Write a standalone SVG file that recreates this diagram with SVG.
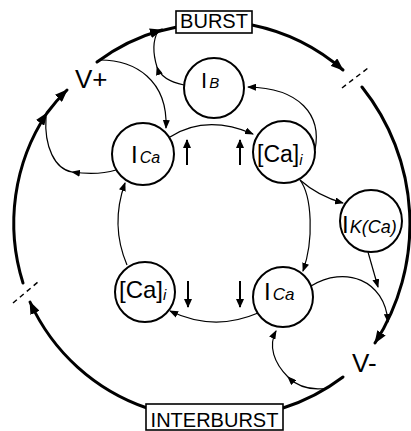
<svg xmlns="http://www.w3.org/2000/svg" width="411" height="431" viewBox="0 0 411 431">
<style>
.thick{fill:none;stroke:#000;stroke-width:3;stroke-linecap:round}
.thin{fill:none;stroke:#000;stroke-width:1.2}
.node{fill:#fff;stroke:#000;stroke-width:2}
.box{fill:#fff;stroke:#000;stroke-width:1.6}
.dash{fill:none;stroke:#000;stroke-width:1.5;stroke-dasharray:5 4}
.small{fill:none;stroke:#000;stroke-width:2}
text{font-family:"Liberation Sans",Arial,Helvetica,sans-serif;fill:#000}
.it{font-style:italic}
</style>
<defs>
<marker id="ah" markerUnits="userSpaceOnUse" markerWidth="13" markerHeight="10" refX="12" refY="5" orient="auto"><path d="M0,0 L13,5 L0,10 z" fill="#000"/></marker>
<marker id="at" markerUnits="userSpaceOnUse" markerWidth="9" markerHeight="7" refX="8" refY="3.5" orient="auto"><path d="M0,0 L9,3.5 L0,7 z" fill="#000"/></marker>
<marker id="as" markerUnits="userSpaceOnUse" markerWidth="9" markerHeight="8" refX="8" refY="4" orient="auto"><path d="M0,0 L9,4 L0,8 z" fill="#000"/></marker>
</defs>
<g id="connectors">
<!-- outer ring -->
<path class="thick" d="M23,283 A199,199 0 0 1 47,113 A199,199 0 0 1 67,90" marker-mid="url(#ah)" marker-end="url(#ah)"/>
<path class="thick" d="M97,62 A197,197 0 0 1 162,30" marker-end="url(#ah)"/>
<path class="thick" d="M160,31 L177,27"/>
<path class="thick" d="M252,25 A199,199 0 0 1 343,70" marker-end="url(#ah)"/>
<path class="dash" d="M342,88 L368,68"/>
<path class="thick" d="M362,87 A220,220 0 0 1 375,343" marker-end="url(#ah)"/>
<path class="thick" d="M343,377 A199,199 0 0 1 283,408"/>
<path class="thick" d="M147,408 A199,199 0 0 1 30,302" marker-end="url(#ah)"/>
<path class="dash" d="M13,303 L38,282"/>
<!-- thin connectors -->
<path class="thin" d="M116,170 C100,175 86,174 72,172 C55,169 44,147 46,117" marker-mid="url(#at)"/>
<path class="thin" d="M100,60 C135,60 168,80 166,128" marker-end="url(#at)"/>
<path class="thin" d="M184,85 C170,82 160,76 157,67 C153,54 152,42 158,31" marker-mid="url(#at)"/>
<path class="thin" d="M315,150 C322,115 300,88 248,87" marker-end="url(#at)"/>
<path class="thin" d="M170,137 Q206,114 253,134" marker-end="url(#at)"/>
<path class="thin" d="M300,180 Q318,196 343,203" marker-end="url(#at)"/>
<path class="thin" d="M300,180 C312,196 314,240 303,271" marker-end="url(#at)"/>
<path class="thin" d="M258,313 Q214,332 170,311" marker-end="url(#at)"/>
<path class="thin" d="M127,265 Q110,225 125,183" marker-end="url(#at)"/>
<path class="thin" d="M368,252 L378,287" marker-end="url(#at)"/>
<path class="thin" d="M311,286 C345,265 385,280 388,322" marker-end="url(#at)"/>
<path class="thin" d="M328,388 C310,391 297,386 288,377 C274,363 268,346 276,331" marker-mid="url(#at)" marker-end="url(#at)"/>
<!-- small direction arrows -->
<path class="small" d="M187,165 L187,140" marker-end="url(#as)"/>
<path class="small" d="M240,165 L240,140" marker-end="url(#as)"/>
<path class="small" d="M188,281 L188,307" marker-end="url(#as)"/>
<path class="small" d="M240,281 L240,307" marker-end="url(#as)"/>
</g>
<g id="burst"><rect class="box" x="176" y="11" width="76" height="22"/><text x="214" y="28" font-size="20" text-anchor="middle">BURST</text></g>
<g id="interburst"><rect class="box" x="146" y="404" width="137" height="26"/><text x="214.5" y="427" font-size="20" text-anchor="middle">INTERBURST</text></g>
<g id="vplus"><text x="75" y="88" font-size="26">V+</text></g>
<g id="vminus"><text x="352" y="372" font-size="26">V-</text></g>
<g id="ica-upper"><circle class="node" cx="143" cy="154" r="31"/><text x="131" y="163" font-size="24">I<tspan class="it" font-size="16" dx="2">Ca</tspan></text></g>
<g id="cai-upper"><circle class="node" cx="284" cy="152" r="31"/><text x="257" y="162" font-size="23">[Ca]<tspan class="it" font-size="15" dy="3">i</tspan></text></g>
<g id="ib"><circle class="node" cx="214" cy="88" r="30"/><text x="201" y="88" font-size="22">I<tspan class="it" font-size="15" dx="2">B</tspan></text></g>
<g id="ikca"><circle class="node" cx="371" cy="221" r="31"/><text x="342" y="233" font-size="24">I<tspan class="it" font-size="18" dx="1">K(Ca)</tspan></text></g>
<g id="cai-lower"><circle class="node" cx="145" cy="292" r="30"/><text x="119" y="298" font-size="24">[Ca]<tspan class="it" font-size="15" dy="2">i</tspan></text></g>
<g id="ica-lower"><circle class="node" cx="283" cy="297" r="30"/><text x="264" y="300" font-size="24">I<tspan class="it" font-size="17" dx="2">Ca</tspan></text></g>
</svg>
